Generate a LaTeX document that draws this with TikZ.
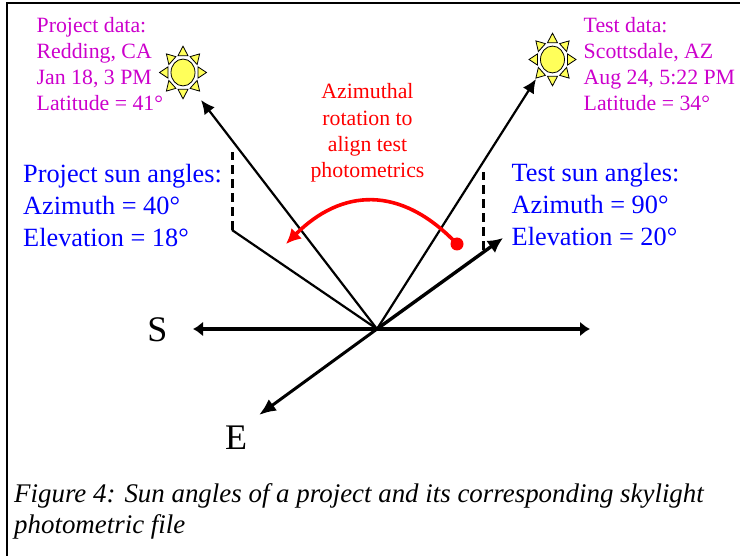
\documentclass[tikz,border=0pt]{standalone}
\usepackage{fontspec}
\setmainfont{Liberation Serif}
\usetikzlibrary{arrows.meta,positioning}
\definecolor{datamagenta}{RGB}{204,0,204}
\definecolor{angleblue}{RGB}{0,0,255}
\definecolor{sunyellow}{RGB}{255,255,90}
\tikzset{x=1pt,y=-1pt,
  datatxt/.style={anchor=north west,inner sep=0pt,align=left,text=datamagenta,font=\fontsize{21.8}{26}\selectfont},
  angletxt/.style={anchor=north west,inner sep=0pt,align=left,text=angleblue,font=\fontsize{26.3}{32}\selectfont},
  rottxt/.style={inner sep=0pt,align=center,text=red,font=\fontsize{21.8}{26.4}\selectfont},
  dirtxt/.style={inner sep=0pt,font=\fontsize{36}{40}\selectfont},
  ray/.style={-{Latex[length=14pt,width=13pt]},line width=2.2pt},
  axis/.style={{Latex[length=10pt,width=15pt]}-{Latex[length=10pt,width=15pt]},line width=3.6pt},
  compass/.style={-{Latex[length=17pt,width=14pt]},line width=3pt},
  sundisc/.style={draw,fill=sunyellow,line width=.8pt},
  spike/.style={draw,fill=sunyellow,line width=.8pt,line join=miter}}
\newcommand{\sunicon}[1]{
  \begin{scope}[shift={(#1)},yscale=1.12]
    \foreach \a in {0,45,...,315}
      \filldraw[spike,rotate=\a] (15,-5) -- (23.5,0) -- (15,5) -- cycle;
    \filldraw[sundisc] (0,0) circle (12);
  \end{scope}}
\begin{document}
\begin{tikzpicture}
\useasboundingbox (0,0) rectangle (740,556);
\draw[line width=2pt] (6.5,570) -- (6.5,3) -- (745,3);

\sunicon{183,72.5}
\sunicon{552.5,59.5}

\node[datatxt] (projdata) at (36.5,17) {Project data:\\Redding, CA\\Jan 18, 3 PM\\Latitude = 41°};
\node[datatxt] (testdata) at (583.5,17) {Test data:\\Scottsdale, AZ\\Aug 24, 5:22 PM\\Latitude = 34°};
\node[angletxt] (projang) at (23,164) {Project sun angles:\\Azimuth = 40°\\Elevation = 18°};
\node[angletxt] (testang) at (511.5,163) {Test sun angles:\\Azimuth = 90°\\Elevation = 20°};
\node[rottxt] (rotate) at (367.5,133) {Azimuthal\\rotation to\\align test\\photometrics};
\node[dirtxt] (south) at (157.5,330) {S};
\node[dirtxt] (east) at (236,438) {E};
\node[anchor=north west,inner sep=0pt,align=left,font=\fontsize{26.9}{31}\itshape\selectfont] (caption) at (14,483)
  {Figure 4: Sun angles of a project and its corresponding skylight\\photometric file};

\coordinate (origin) at (377,329);
\coordinate (axisw) at (193,329);
\coordinate (axise) at (590,329);
\coordinate (compe) at (259,415);
\coordinate (projsun) at (201,100);
\coordinate (testsun) at (536,79);
\coordinate (projfoot) at (232,230);
\coordinate (projtop) at (232,152);
\coordinate (testhead) at (503,238);
\coordinate (testfoot) at (483,250);
\coordinate (testtop) at (483,172);
\coordinate (rotdot) at (457,244);
\coordinate (rothead) at (286,244);

\draw[axis] (axisw) -- (axise);
\draw[compass] (origin) -- (compe);
\draw[ray] (origin) -- (projsun);
\draw[ray] (origin) -- (testsun);
\draw[line width=2.2pt] (origin) -- (projfoot);
\draw[-{Latex[length=15pt,width=15pt]},line width=3.4pt] (origin) -- (testhead);
\draw[dash pattern=on 9pt off 5pt,line width=3pt] (projfoot) -- (projtop);
\draw[dash pattern=on 9pt off 5pt,line width=3pt] (testfoot) -- (testtop);

\draw[red,line width=3.6pt,-{Latex[length=15pt,width=15pt]}] (rotdot) .. controls (400,184) and (341,189) .. (rothead);
\fill[red] (rotdot) circle (6.5);

\end{tikzpicture}
\end{document}
